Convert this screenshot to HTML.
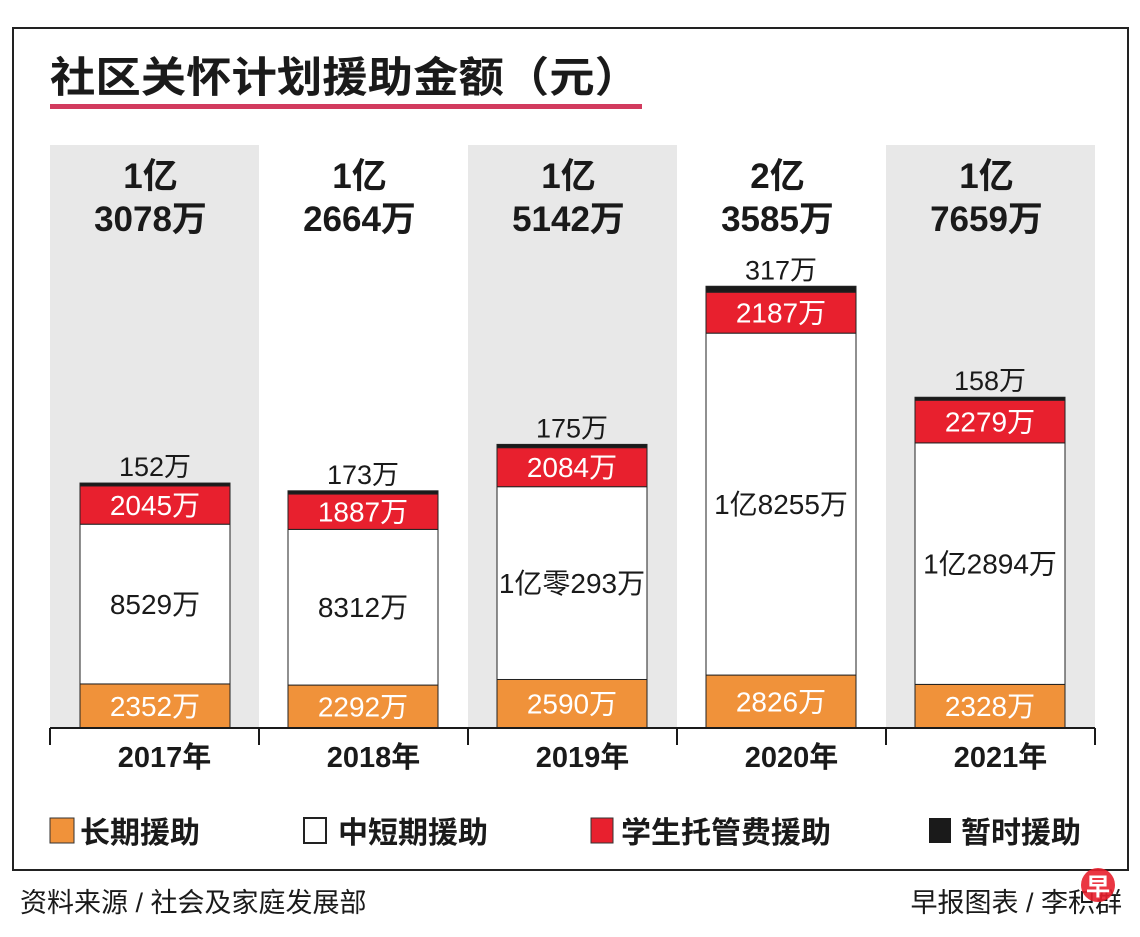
<!DOCTYPE html>
<html><head><meta charset="utf-8">
<style>
html,body{margin:0;padding:0;background:#fff;}
svg{display:block;font-family:"Liberation Sans","Noto Sans CJK SC",sans-serif;}
</style></head>
<body>
<svg id="chart" width="1140" height="937" viewBox="0 0 1140 937">
  <rect x="13" y="28" width="1115" height="842" fill="#fff" stroke="#222" stroke-width="2"/>
  <text x="50" y="92" font-size="42" font-weight="bold" fill="#1a1a1a" textLength="590" lengthAdjust="spacingAndGlyphs">社区关怀计划援助金额（元）</text>
  <rect x="50" y="104" width="592" height="5" fill="#d23b5e"/>
  <g id="bands"></g>
  <g id="bars"></g>
  <g id="axis"></g>
  <g id="legend">
    <rect x="50" y="818" width="24" height="25" fill="#f0923a" stroke="#333"/>
    <text x="80" y="843" font-size="30" font-weight="bold" fill="#1a1a1a">长期援助</text>
    <rect x="304" y="818" width="22" height="25" fill="#fff" stroke="#222" stroke-width="2"/>
    <text x="338" y="843" font-size="30" font-weight="bold" fill="#1a1a1a">中短期援助</text>
    <rect x="591" y="818" width="22" height="25" fill="#e8202e" stroke="#333"/>
    <text x="621" y="843" font-size="30" font-weight="bold" fill="#1a1a1a">学生托管费援助</text>
    <rect x="929" y="818" width="22" height="25" fill="#1a1a1a"/>
    <text x="961" y="843" font-size="30" font-weight="bold" fill="#1a1a1a">暂时援助</text>
  </g>
  <text x="20" y="912" font-size="27" fill="#1a1a1a">资料来源 / 社会及家庭发展部</text>
  <text x="1122" y="912" font-size="27" fill="#1a1a1a" text-anchor="end">早报图表 / 李积群</text>
  <circle cx="1098" cy="885" r="17" fill="#e8202e" opacity="0.9"/>
  <text x="1098" y="895" font-size="24" font-weight="bold" fill="#fff" text-anchor="middle">早</text>
</svg>
<script>
const years = ["2017年","2018年","2019年","2020年","2021年"];
const longTerm = [2352,2292,2590,2826,2328];
const shortTerm = [8529,8312,10293,18255,12894];
const studentCare = [2045,1887,2084,2187,2279];
const temporary = [152,173,175,317,158];
const shortLabels = ["8529万","8312万","1亿零293万","1亿8255万","1亿2894万"];
const totalLine1 = ["1亿","1亿","1亿","2亿","1亿"];
const totalLine2 = ["3078万","2664万","5142万","3585万","7659万"];

const NS="http://www.w3.org/2000/svg";
const baseY=728, k=0.01873, colX0=50, colW=209, barW=150, barOff=30;
function y(v){return baseY - v*k;}
function colLeft(i){return colX0 + i*colW;}
function mk(tag,attrs,parent){const e=document.createElementNS(NS,tag);for(const a in attrs)e.setAttribute(a,attrs[a]);parent.appendChild(e);return e;}
const bands=document.getElementById('bands'), bars=document.getElementById('bars'), axis=document.getElementById('axis');

years.forEach((yr,i)=>{
  const cx=colLeft(i), mid=cx+colW/2;
  if(i%2===0){
    const b=mk('rect',{x:cx,y:145,width:colW,height:baseY-145,fill:'#e8e8e8'},bands);
    
    
  }
  const t1=mk('text',{x:mid-4,y:188,'font-size':35,'font-weight':'bold','text-anchor':'middle',fill:'#1a1a1a'},bars);
  t1.textContent=totalLine1[i];
  
  
  const t2=mk('text',{x:mid-4,y:231,'font-size':35,'font-weight':'bold','text-anchor':'middle',fill:'#1a1a1a'},bars);
  t2.textContent=totalLine2[i];
  
  

  const bx=cx+barOff+(i===0?0:-1);
  let acc=0;
  const segs=[
    {v:longTerm[i],fill:'#f0923a',name:'bar-long-term',lbl:longTerm[i]+'万',col:'#fff'},
    {v:shortTerm[i],fill:'#fff',name:'bar-short-term',lbl:shortLabels[i],col:'#1a1a1a'},
    {v:studentCare[i],fill:'#e8202e',name:'bar-student-care',lbl:studentCare[i]+'万',col:'#fff'},
    {v:temporary[i],fill:'#1a1a1a',name:'bar-temporary',lbl:null}
  ];
  segs.forEach(s=>{
    const y0=y(acc), y1=y(acc+s.v);
    const r=mk('rect',{x:bx,y:y1,width:barW,height:y0-y1,fill:s.fill,stroke:'#222','stroke-width':1},bars);
    
    
    if(s.lbl){
      const t=mk('text',{x:bx+barW/2,y:(y0+y1)/2+10,'font-size':28,'text-anchor':'middle',fill:s.col},bars);
      t.textContent=s.lbl;
      
      
    }
    acc+=s.v;
  });
  const tl=mk('text',{x:bx+barW/2,y:y(acc)-7,'font-size':27,'text-anchor':'middle',fill:'#1a1a1a'},bars);
  tl.textContent=temporary[i]+'万';
  
  

  const yl=mk('text',{x:mid+10,y:767,'font-size':29,'font-weight':'bold','text-anchor':'middle',fill:'#1a1a1a'},axis);
  yl.textContent=yr;
  
  
});
const al=mk('line',{x1:colX0,y1:baseY,x2:colLeft(years.length),y2:baseY,stroke:'#1a1a1a','stroke-width':2},axis);


for(let i=0;i<=years.length;i++){
  const tk=mk('line',{x1:colLeft(i),y1:baseY,x2:colLeft(i),y2:745,stroke:'#1a1a1a','stroke-width':2},axis);
  
  
}
</script>
</body></html>
